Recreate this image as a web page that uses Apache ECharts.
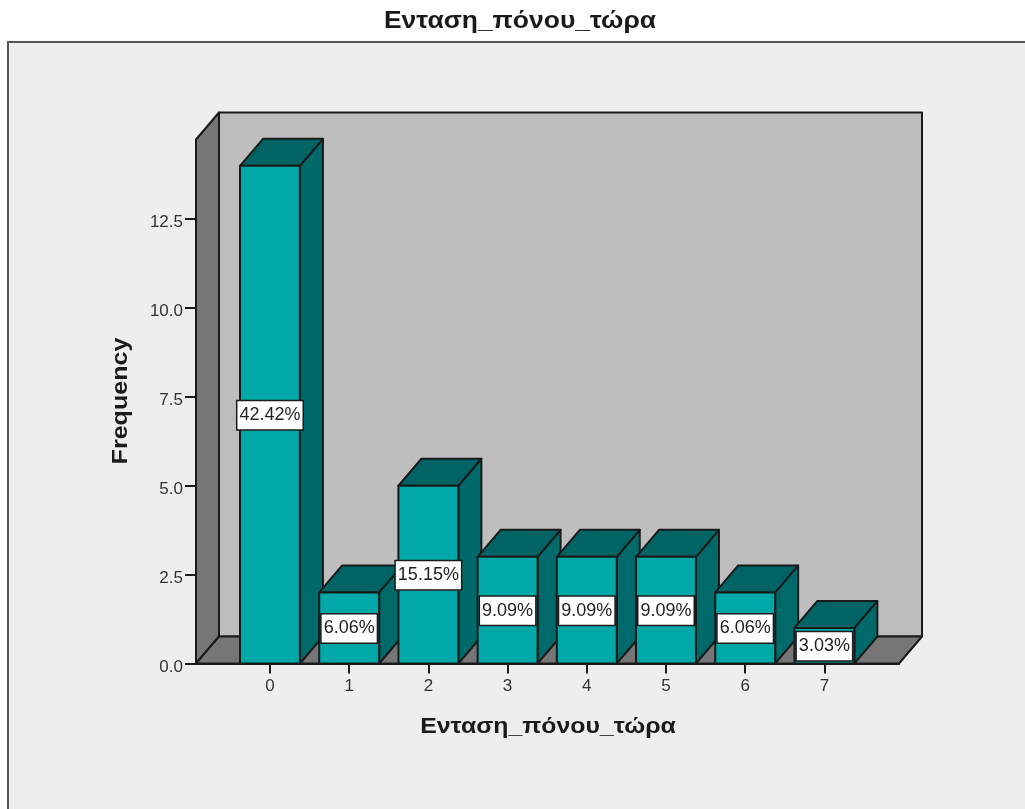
<!DOCTYPE html>
<html>
<head>
<meta charset="utf-8">
<style>html,body{margin:0;padding:0;background:#fff}#c{width:1025px;height:809px}</style>
<script src="https://cdn.jsdelivr.net/npm/echarts@6/dist/echarts.min.js"></script>
</head>
<body>
<div id="c"></div>
<script>
// Pain intensity frequencies
const titleText = 'Ενταση_πόνου_τώρα';
const yAxisTitle = 'Frequency';
const categories = [0, 1, 2, 3, 4, 5, 6, 7];
const frequencies = [14, 2, 5, 3, 3, 3, 2, 1];
const percentLabels = ['42.42%', '6.06%', '15.15%', '9.09%', '9.09%', '9.09%', '6.06%', '3.03%'];
const yTicks = [0, 2.5, 5, 7.5, 10, 12.5];
const xMin = -0.934, xMax = 7.942, yMax = 14.74;

const FONT = '"Liberation Sans", Arial, sans-serif';
const DX = 23, DY = -27, BAR_W = 0.757, TICK = 11;
const INK = '#1a1a1a';
const LINE = { stroke: INK, lineWidth: 2, lineJoin: 'round' };

function poly(points, fill) {
  return { type: 'polygon', shape: { points }, style: Object.assign({ fill }, LINE) };
}

// Back wall, left wall, floor and the value-axis ticks of the 3D frame
function renderFrame(params, api) {
  const [x0, y0] = api.coord([xMin, 0]);
  const [x1, y1] = api.coord([xMax, yMax]);
  const ticks = yTicks.map(v => {
    const y = Math.round(api.coord([xMin, v])[1]);
    return { type: 'line', shape: { x1: x0 - TICK, y1: y, x2: x0, y2: y }, style: { stroke: INK, lineWidth: 2 } };
  });
  return {
    type: 'group',
    children: [
      poly([[x0 + DX, y1 + DY], [x1 + DX, y1 + DY], [x1 + DX, y0 + DY], [x0 + DX, y0 + DY]], '#bebebe'),
      poly([[x0, y0], [x0 + DX, y0 + DY], [x0 + DX, y1 + DY], [x0, y1]], '#767676'),
      poly([[x0, y0], [x1, y0], [x1 + DX, y0 + DY], [x0 + DX, y0 + DY]], '#767676')
    ].concat(ticks)
  };
}

// One extruded bar: side, top and front face
function renderBar(params, api) {
  const c = api.value(0), v = api.value(1);
  const [l, b] = api.coord([c - BAR_W / 2, 0]);
  const [r, t] = api.coord([c + BAR_W / 2, v]);
  return {
    type: 'group',
    children: [
      poly([[r, b], [r + DX, b + DY], [r + DX, t + DY], [r, t]], '#006a6a'),
      poly([[l, t], [r, t], [r + DX, t + DY], [l + DX, t + DY]], '#006464'),
      poly([[l, b], [r, b], [r, t], [l, t]], '#00a8a8')
    ]
  };
}

// Percentage tag centred on the front face of each bar
function renderTag(params, api) {
  const c = api.value(0), v = api.value(1);
  const [x, y] = api.coord([c, v / 2]);
  return {
    type: 'text',
    style: {
      text: percentLabels[params.dataIndex],
      x, y: y + 0.5,
      align: 'center', verticalAlign: 'middle',
      font: '18px ' + FONT,
      fill: '#222',
      backgroundColor: '#fff',
      borderColor: INK,
      borderWidth: 1.5,
      padding: [7, 2, 3, 2]
    }
  };
}

// Bold heading stretched sideways to the wide setting used on this chart
function heading(text, x, y, size, stretch, rotation) {
  return {
    type: 'text', z: 20, silent: true, x, y, scaleX: stretch, rotation: rotation || 0,
    style: { text, font: 'bold ' + size + 'px ' + FONT, fill: INK, align: 'center', verticalAlign: 'middle' }
  };
}

const barData = categories.map((c, i) => [c, frequencies[i]]);

const chart = echarts.init(document.getElementById('c'), null, { renderer: 'canvas' });
chart.setOption({
  animation: false,
  backgroundColor: '#fff',
  graphic: [
    { type: 'rect', z: -10, silent: true, shape: { x: 8, y: 42, width: 1017, height: 767 }, style: { fill: '#eeeeee' } },
    { type: 'polyline', z: -9, silent: true, shape: { points: [[8, 809], [8, 42], [1025, 42]] }, style: { stroke: '#555', lineWidth: 2, fill: null } },
    heading(titleText, 520, 22, 23, 1.15),
    heading(titleText, 548, 727, 22, 1.13),
    heading(yAxisTitle, 121, 401, 22, 1.14, Math.PI / 2)
  ],
  grid: { left: 196, top: 139.5, width: 703, height: 524 },
  xAxis: {
    type: 'value', min: xMin, max: xMax,
    splitLine: { show: false },
    axisLine: { show: true, lineStyle: { color: INK, width: 2 } },
    axisTick: { show: true, length: 10, customValues: categories, lineStyle: { color: INK, width: 2 } },
    axisLabel: { customValues: categories, margin: 14, fontFamily: FONT, fontSize: 17, color: '#333', formatter: v => String(v) }
  },
  yAxis: {
    type: 'value', min: 0, max: yMax,
    splitLine: { show: false },
    axisLine: { show: true, lineStyle: { color: INK, width: 2 } },
    axisTick: { show: false },
    axisLabel: { customValues: yTicks, margin: 13, verticalAlign: 'top', lineHeight: 7, fontFamily: FONT, fontSize: 17, color: '#333', formatter: v => v.toFixed(1) }
  },
  series: [
    { type: 'custom', z: 1, clip: false, silent: true, renderItem: renderFrame, data: [[0, 0]], encode: { x: 0, y: 1 } },
    { type: 'custom', z: 2, clip: false, silent: true, renderItem: renderBar, data: barData, encode: { x: 0, y: 1 } },
    { type: 'custom', z: 3, clip: false, silent: true, renderItem: renderTag, data: barData, encode: { x: 0, y: 1 } }
  ]
});
</script>
</body>
</html>
